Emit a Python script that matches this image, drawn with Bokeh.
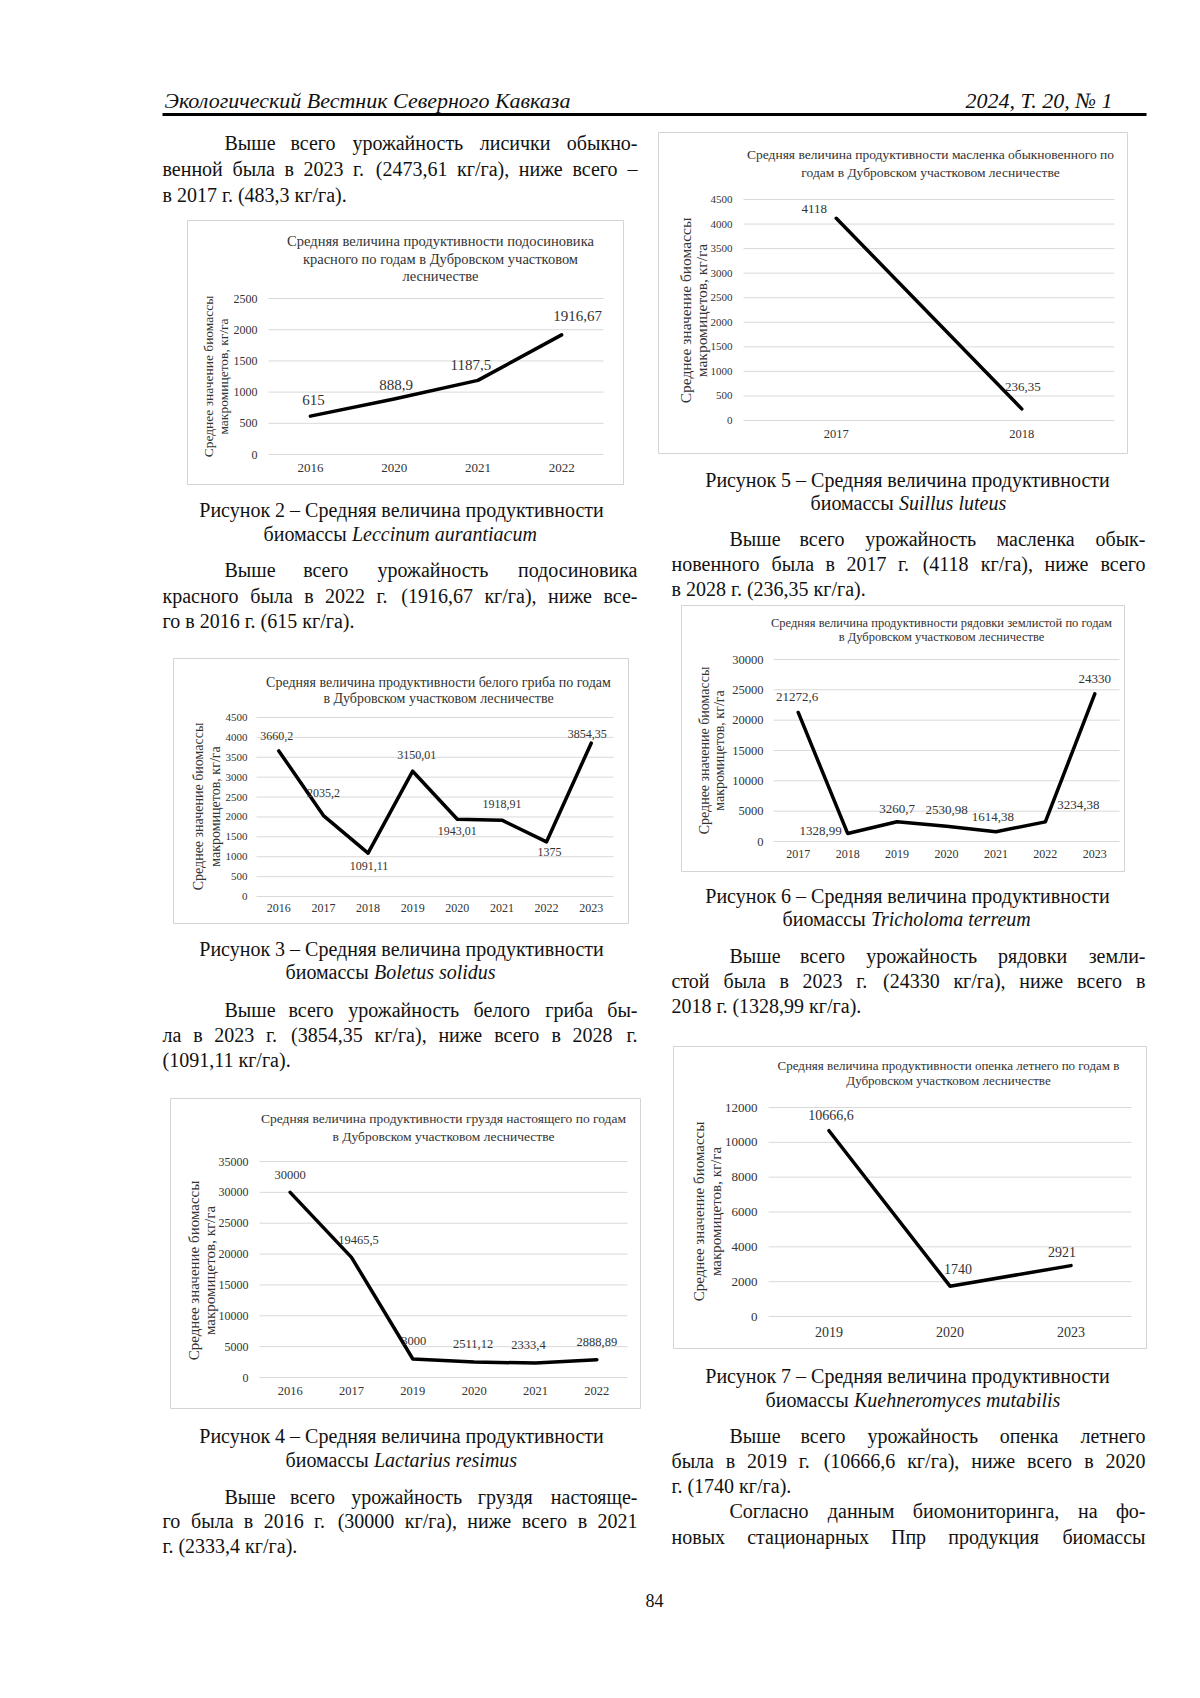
import math
from bokeh.plotting import figure
from bokeh.models import Range1d, LinearAxis, FixedTicker, ColumnDataSource
from bokeh.core.properties import value
from bokeh.embed import file_html
from bokeh.resources import INLINE

SERIF = "Liberation Serif"

# ---------------- data ----------------
c2_years = ["2016", "2020", "2021", "2022"]
c2_values = [615, 888.9, 1187.5, 1916.67]
c2_yticks = [0, 500, 1000, 1500, 2000, 2500]

c3_years = ["2016", "2017", "2018", "2019", "2020", "2021", "2022", "2023"]
c3_values = [3660.2, 2035.2, 1091.11, 3150.01, 1943.01, 1918.91, 1375, 3854.35]
c3_yticks = [0, 500, 1000, 1500, 2000, 2500, 3000, 3500, 4000, 4500]

c4_years = ["2016", "2017", "2019", "2020", "2021", "2022"]
c4_values = [30000, 19465.5, 3000, 2511.12, 2333.4, 2888.89]
c4_yticks = [0, 5000, 10000, 15000, 20000, 25000, 30000, 35000]

c5_years = ["2017", "2018"]
c5_values = [4118, 236.35]
c5_yticks = [0, 500, 1000, 1500, 2000, 2500, 3000, 3500, 4000, 4500]

c6_years = ["2017", "2018", "2019", "2020", "2021", "2022", "2023"]
c6_values = [21272.6, 1328.99, 3260.7, 2530.98, 1614.38, 3234.38, 24330]
c6_yticks = [0, 5000, 10000, 15000, 20000, 25000, 30000]

c7_years = ["2019", "2020", "2023"]
c7_values = [10666.6, 1740, 2921]
c7_yticks = [0, 2000, 4000, 6000, 8000, 10000, 12000]

YTITLE = ["Среднее значение биомассы", "макромицетов, кг/га"]

# ---------------- page figure ----------------
W, H = 1184, 1682
OX, OY = 0, 0   # page coordinate of the canvas' top-left corner
p = figure(width=W, height=H, x_range=Range1d(OX, OX + W), y_range=Range1d(OY + H, OY),
           x_axis_type=None, y_axis_type=None, min_border=0,
           toolbar_location=None, output_backend="svg",
           outline_line_color=None, background_fill_color="white",
           border_fill_color="white")

groups = {}


def put(x, y, s, fs, align="left", style="normal", color="#111111", angle=0.0):
    groups.setdefault((fs, align, style, color, angle), []).append((x, y, s))


CW = {'а': 444, 'б': 500, 'в': 472, 'г': 410, 'д': 514, 'е': 444, 'ж': 691, 'з': 395,
      'и': 535, 'й': 535, 'к': 486, 'л': 503, 'м': 633, 'н': 535, 'о': 500, 'п': 535,
      'р': 500, 'с': 444, 'т': 437, 'у': 500, 'ф': 648, 'х': 500, 'ц': 535, 'ч': 503,
      'ш': 770, 'щ': 770, 'ъ': 517, 'ы': 672, 'ь': 456, 'э': 429, 'ю': 747, 'я': 482,
      'В': 593, 'С': 667, 'П': 722, 'Р': 556, ' ': 250, ',': 250, '.': 250, '(': 333,
      ')': 333, '-': 333, '–': 500, '/': 278}


def tw(s, fs):
    return sum(CW.get(c, 500) for c in s) * fs / 1000.0


def line(s, y, left, right, justify, fs=20):
    if not justify:
        put(left, y, s, fs)
        return
    words = s.split(" ")
    widths = [tw(w, fs) for w in words]
    gap = (right - left - sum(widths)) / (len(words) - 1)
    x = left
    for w, wd in zip(words[:-1], widths[:-1]):
        put(x, y, w, fs)
        x += wd + gap
    put(right, y, words[-1], fs, align="right")


def para(lines, ys, left, right, indent, last_justified=False):
    for i, (s, y) in enumerate(zip(lines, ys)):
        lft = left + indent if i == 0 else left
        just = (i < len(lines) - 1) or last_justified
        line(s, y, lft, right, just)


def caption(cx, y1, num, y2, start, latin, fs=20):
    put(cx, y1, f"Рисунок {num} – Средняя величина продуктивности", fs, align="center")
    put(start, y2, "биомассы", fs)
    put(start + tw("биомассы ", fs), y2, latin, fs, style="italic")


def fmt(v):
    return f"{v:g}".replace(".", ",")


CH_TXT = "#333333"


def add_chart(cid, years, values, yticks, L):
    n = len(years)
    xl, xr = L["px"]
    y0, yt = L["py"]
    w = (xr - xl) / n
    k = (y0 - yt) / yticks[-1]
    xn, yn = cid + "x", cid + "y"
    p.extra_x_ranges[xn] = Range1d(start=(OX - xl) / w - 0.5, end=(OX + W - xl) / w - 0.5)
    p.extra_y_ranges[yn] = Range1d(start=(y0 - (OY + H)) / k, end=(y0 - OY) / k)

    bx0, by0, bx1, by1 = L["box"]
    p.quad(left=[bx0], right=[bx1], top=[by0], bottom=[by1],
           fill_color="white", line_color="#d4d4d4", line_width=1)

    # gridlines
    p.segment(x0=[-0.5] * len(yticks), x1=[n - 0.5] * len(yticks), y0=yticks, y1=yticks,
              x_range_name=xn, y_range_name=yn, line_color="#d9d9d9", line_width=1)

    # series
    p.line(x=list(range(n)), y=values, x_range_name=xn, y_range_name=yn,
           line_color="black", line_width=3.5, line_join="round", line_cap="round")

    src = ColumnDataSource(dict(x=list(range(n)), y=values, text=[fmt(v) for v in values],
                                dx=L["dx"], dy=L["dy"]))
    p.text(x="x", y="y", text="text", x_offset="dx", y_offset="dy", source=src,
           x_range_name=xn, y_range_name=yn, text_font=value(SERIF),
           text_font_size=f"{L['lab_fs']}px", text_align="center",
           text_baseline="middle", text_color=CH_TXT)

    yaxis = LinearAxis(x_range_name=xn, y_range_name=yn, fixed_location=-0.5,
                       ticker=FixedTicker(ticks=yticks), axis_line_color=None,
                       major_tick_line_color=None, minor_tick_line_color=None,
                       major_tick_in=0, major_tick_out=0,
                       major_label_standoff=L["ystand"],
                       major_label_text_font=SERIF,
                       major_label_text_font_size=f"{L['tick_fs']}px",
                       major_label_text_color=CH_TXT)
    p.add_layout(yaxis, "left")

    xaxis = LinearAxis(x_range_name=xn, y_range_name=yn, fixed_location=0,
                       ticker=FixedTicker(ticks=list(range(n))),
                       major_label_overrides={i: y for i, y in enumerate(years)},
                       axis_line_color=None,
                       major_tick_line_color=None, minor_tick_line_color=None,
                       major_tick_in=0, major_tick_out=0,
                       major_label_standoff=int(round(L["xlab_y"] - y0 - 0.55 * L["xlab_fs"])),
                       major_label_text_font=SERIF,
                       major_label_text_font_size=f"{L['xlab_fs']}px",
                       major_label_text_color=CH_TXT)
    p.add_layout(xaxis, "below")

    for s, ty in zip(L["title"], L["title_y"]):
        put(L["title_x"], ty, s, L["title_fs"], align="center", color=CH_TXT)
    for s, tx in zip(YTITLE, L["ytitle_x"]):
        put(tx, L["ytitle_y"], s, L["ytitle_fs"], align="center", color=CH_TXT,
            angle=math.pi / 2)


# ---------------- layout (positions / styles) ----------------
L2 = dict(box=(187, 220, 623, 484), px=(268, 603), py=(454, 298),
          title=["Средняя величина продуктивности подосиновика",
                 "красного по годам в Дубровском участковом", "лесничестве"],
          title_x=440, title_y=[240, 258, 275], title_fs=14.5,
          ytitle_x=(208, 223), ytitle_y=376, ytitle_fs=13.5,
          tick_fs=12, ystand=11, xlab_y=470, xlab_fs=13, lab_fs=15,
          dx=[3, 2, -7, 16], dy=[-16, -14, -15, -19])
L3 = dict(box=(173, 658, 628, 923), px=(256, 613), py=(896, 717),
          title=["Средняя величина продуктивности белого гриба по годам",
                 "в Дубровском участковом лесничестве"],
          title_x=438, title_y=[682, 698], title_fs=14,
          ytitle_x=(198, 215), ytitle_y=806, ytitle_fs=14,
          tick_fs=11, ystand=9, xlab_y=910, xlab_fs=12, lab_fs=12,
          dx=[-2, 0, 1, 4, 0, 0, 3, -4], dy=[-15, -23, 13, -16, 12, -16, 10, -9])
L4 = dict(box=(170, 1098, 640, 1408), px=(259, 627), py=(1377, 1161),
          title=["Средняя величина продуктивности груздя настоящего по годам",
                 "в Дубровском участковом лесничестве"],
          title_x=443, title_y=[1118, 1136], title_fs=13.5,
          ytitle_x=(193, 209), ytitle_y=1270, ytitle_fs=15,
          tick_fs=12, ystand=11, xlab_y=1393, xlab_fs=12.5, lab_fs=12.5,
          dx=[0, 7, 1, -1, -7, 0], dy=[-17, -17, -18, -18, -18, -18])
L5 = dict(box=(658, 132, 1127, 453), px=(743, 1114), py=(420, 199),
          title=["Средняя величина продуктивности масленка обыкновенного по",
                 "годам в Дубровском участковом лесничестве"],
          title_x=930, title_y=[154, 172], title_fs=13.5,
          ytitle_x=(685, 701), ytitle_y=310, ytitle_fs=15.5,
          tick_fs=11, ystand=11, xlab_y=436, xlab_fs=12.5, lab_fs=13,
          dx=[-22, 1], dy=[-9, -22])
L6 = dict(box=(681, 605, 1124, 871), px=(773, 1119), py=(841, 659),
          title=["Средняя величина продуктивности рядовки землистой по годам",
                 "в Дубровском участковом лесничестве"],
          title_x=941, title_y=[622, 636], title_fs=12.5,
          ytitle_x=(704, 719), ytitle_y=750, ytitle_fs=14,
          tick_fs=12.5, ystand=10, xlab_y=856, xlab_fs=12, lab_fs=13,
          dx=[-1, -27, 0, 0, -3, 33, 0], dy=[-15, -2, -13, -16, -15, -17, -15])
L7 = dict(box=(673, 1046, 1146, 1348), px=(768, 1131), py=(1316, 1107),
          title=["Средняя величина продуктивности опенка летнего по годам в",
                 "Дубровском участковом лесничестве"],
          title_x=948, title_y=[1065, 1080], title_fs=13,
          ytitle_x=(698, 715), ytitle_y=1211, ytitle_fs=15,
          tick_fs=13, ystand=11, xlab_y=1334, xlab_fs=14, lab_fs=14,
          dx=[2, 8, -9], dy=[-16, -17, -14])

# header
put(164, 100, "Экологический Вестник Северного Кавказа", 22, style="italic")
put(1112, 100, "2024, Т. 20, № 1", 22, align="right", style="italic")
p.segment(x0=[162], x1=[1146], y0=[114], y1=[114], line_color="black", line_width=3)

add_chart("c2", c2_years, c2_values, c2_yticks, L2)
add_chart("c3", c3_years, c3_values, c3_yticks, L3)
add_chart("c4", c4_years, c4_values, c4_yticks, L4)
add_chart("c5", c5_years, c5_values, c5_yticks, L5)
add_chart("c6", c6_years, c6_values, c6_yticks, L6)
add_chart("c7", c7_years, c7_values, c7_yticks, L7)

LL, LR, LI = 162, 637, 62
RL, RR, RI = 671, 1145, 58

para(["Выше всего урожайность лисички обыкно-",
      "венной была в 2023 г. (2473,61 кг/га), ниже всего –",
      "в 2017 г. (483,3 кг/га)."], [142, 168, 194], LL, LR, LI)
caption(401, 509, 2, 533, 263, "Leccinum aurantiacum")
para(["Выше всего урожайность подосиновика",
      "красного была в 2022 г. (1916,67 кг/га), ниже все-",
      "го в 2016 г. (615 кг/га)."], [569, 595, 620], LL, LR, LI)
caption(401, 948, 3, 971, 285, "Boletus solidus")
para(["Выше всего урожайность белого гриба бы-",
      "ла в 2023 г. (3854,35 кг/га), ниже всего в 2028 г.",
      "(1091,11 кг/га)."], [1009, 1034, 1059], LL, LR, LI)
caption(401, 1435, 4, 1459, 285, "Lactarius resimus")
para(["Выше всего урожайность груздя настояще-",
      "го была в 2016 г. (30000 кг/га), ниже всего в 2021",
      "г. (2333,4 кг/га)."], [1496, 1520, 1545], LL, LR, LI)

caption(907, 479, 5, 502, 810, "Suillus luteus")
para(["Выше всего урожайность масленка обык-",
      "новенного была в 2017 г. (4118 кг/га), ниже всего",
      "в 2028 г. (236,35 кг/га)."], [538, 563, 588], RL, RR, RI)
caption(907, 895, 6, 918, 782, "Tricholoma terreum")
para(["Выше всего урожайность рядовки земли-",
      "стой была в 2023 г. (24330 кг/га), ниже всего в",
      "2018 г. (1328,99 кг/га)."], [955, 980, 1005], RL, RR, RI)
caption(907, 1375, 7, 1399, 765, "Kuehneromyces mutabilis")
para(["Выше всего урожайность опенка летнего",
      "была в 2019 г. (10666,6 кг/га), ниже всего в 2020",
      "г. (1740 кг/га)."], [1435, 1460, 1485], RL, RR, RI)
para(["Согласно данным биомониторинга, на фо-",
      "новых стационарных Ппр продукция биомассы"], [1510, 1536], RL, RR, RI,
     last_justified=True)

put(654, 1600, "84", 18, align="center")

for (fs, align, style, color, angle), items in groups.items():
    xs, ys, ts = zip(*items)
    p.text(x=list(xs), y=list(ys), text=list(ts), text_font=value(SERIF),
           text_font_size=f"{fs}px", text_align=align, text_baseline="middle",
           text_font_style=style, text_color=color, angle=angle)

open("out.html", "w").write(file_html(p, INLINE))
